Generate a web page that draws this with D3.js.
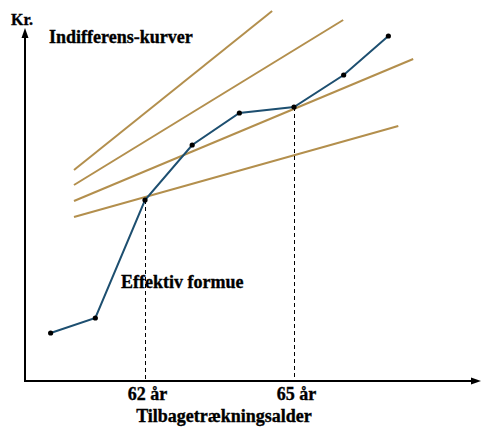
<!DOCTYPE html>
<html><head><meta charset="utf-8">
<script src="https://cdn.jsdelivr.net/npm/d3@7"></script>
<style>body{margin:0;background:#fff}svg{display:block}text{font-family:"Liberation Serif","Times New Roman",serif;font-weight:bold;fill:#000;stroke:#000;stroke-width:0.35px}</style>
</head><body><svg id="c" width="481" height="429"></svg>
<script>
// Data
const ages = [60.1, 61, 62, 62.95, 63.9, 65, 66, 66.9];
const wealth = [48, 63, 181, 236, 268, 274, 306, 345];
// Indifference curves: start/end ages and values
const icStartAge = [60.57, 60.57, 60.57, 60.57];
const icEndAge = [64.56, 65.99, 67.4, 67.1];
const icStartVal = [211, 196, 180, 164];
const icEndVal = [370, 361, 322, 255];
const tickAges = [62, 65];
const tickLabels = ["62 år", "65 år"];
const yLabel = "Kr.";
const xLabel = "Tilbagetrækningsalder";
const curveLabel = "Indifferens-kurver";
const seriesLabel = "Effektiv formue";

const svg = d3.select("#c");
const x = d3.scaleLinear().domain([62, 65]).range([145, 294]);
const y = d3.scaleLinear().domain([0, 350]).range([381, 31]);
const x0 = 25, y0 = 381;

// indifference curves
const ic = icStartAge.map((a, i) => [[a, icStartVal[i]], [icEndAge[i], icEndVal[i]]]);
const line = d3.line().x(d => x(d[0])).y(d => y(d[1]));
svg.selectAll(".ic").data(ic).join("path").attr("class", "ic")
  .attr("d", line).attr("fill", "none").attr("stroke", "#b38f4d").attr("stroke-width", 2);

// dashed guides
tickAges.forEach(a => {
  const i = ages.indexOf(a);
  svg.append("line").attr("x1", x(a) + 0.5).attr("x2", x(a) + 0.5).attr("y1", y(wealth[i])).attr("y2", y0)
    .attr("stroke", "#000").attr("stroke-width", 1).attr("stroke-dasharray", "4,3");
});

// series
const pts = ages.map((a, i) => [a, wealth[i]]);
svg.append("path").attr("d", line(pts)).attr("fill", "none").attr("stroke", "#1d4f70").attr("stroke-width", 2);
svg.selectAll(".pt").data(pts).join("circle").attr("class", "pt")
  .attr("cx", d => x(d[0])).attr("cy", d => y(d[1])).attr("r", 2.6).attr("fill", "#000");

// axes
svg.append("line").attr("x1", x0).attr("x2", x0).attr("y1", y0 + 1).attr("y2", 32).attr("stroke", "#000").attr("stroke-width", 2);
svg.append("line").attr("x1", x0 - 1).attr("x2", 476).attr("y1", y0).attr("y2", y0).attr("stroke", "#000").attr("stroke-width", 2);
svg.append("path").attr("d", `M${x0},28 L${x0-3.5},38 L${x0+3.5},38 Z`).attr("fill", "#000");
svg.append("path").attr("d", `M481,${y0} L471,${y0-3.5} L471,${y0+3.5} Z`).attr("fill", "#000");

// tick labels via axis
const ax = d3.axisBottom(x).tickValues(tickAges).tickSize(0).tickPadding(0)
  .tickFormat((d, i) => tickLabels[i]);
const g = svg.append("g").attr("transform", `translate(2,${y0})`).call(ax);
g.select(".domain").remove();
g.selectAll("text").attr("font-size", 18).attr("dy", null).attr("y", 19)
  .style("font-family", '"Liberation Serif","Times New Roman",serif').style("font-weight", "bold")
  .attr("fill", "#000").attr("stroke", "#000").attr("stroke-width", 0.35);

svg.append("text").attr("x", 224).attr("y", 422).attr("text-anchor", "middle").attr("font-size", 18).text(xLabel);
svg.append("text").attr("x", 11).attr("y", 25).attr("font-size", 16).text(yLabel);
svg.append("text").attr("x", 49).attr("y", 43).attr("font-size", 18).text(curveLabel);
svg.append("text").attr("x", 121).attr("y", 288).attr("font-size", 18).text(seriesLabel);
</script></body></html>
